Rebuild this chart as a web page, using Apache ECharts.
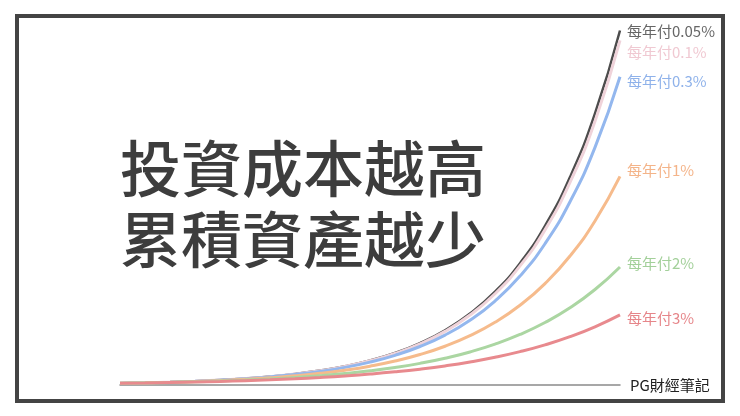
<!DOCTYPE html>
<html><head><meta charset="utf-8">
<script src="https://cdn.jsdelivr.net/npm/echarts@6/dist/echarts.min.js"></script>
<style>html,body{margin:0;padding:0;background:#fff}#c{width:740px;height:416px}</style>
</head><body><div id="c"></div>
<script>
const years = ['0','2','4','6','8','10','12','14','16','18','20','22','24','26','28','30','32','34','36','38','40'];
const fee005 = [10,13.1,17.1,22.3,29.1,38.0,49.6,64.8,84.7,110.6,144.4,188.6,246.3,321.7,420.2,548.8,716.7,936.0,1223,1597,2085];
const fee01  = [10,13.0,17.0,22.2,28.9,37.7,49.2,64.1,83.7,109.1,142.4,185.5,242.2,315.5,411.9,536.6,700.6,912.4,1192,1552,2027];
const fee03  = [10,13.0,16.8,21.8,28.3,36.7,47.6,61.7,80.0,103.8,134.6,174.6,226.5,293.7,380.9,494.0,640.7,831.0,1078,1398,1813];
const fee1   = [10,12.7,16.2,20.6,26.2,33.3,42.3,53.9,68.5,87.1,110.8,140.9,179.2,228.0,289.9,368.8,469.1,596.6,758.7,965.0,1227];
const fee2   = [10,12.4,15.3,18.9,23.4,28.9,35.7,44.1,54.5,67.4,83.3,103.0,127.3,157.4,194.5,240.5,297.3,367.5,454.2,561.6,694.1];
const fee3   = [10,12.0,14.5,17.5,21.0,25.3,30.5,36.8,44.3,53.3,64.2,77.4,93.2,112.2,135.2,162.8,196.1,236.2,284.4,342.6,412.6];
const seriesNames = ['每年付0.05%','每年付0.1%','每年付0.3%','每年付1%','每年付2%','每年付3%'];
const titleLines = ['投資成本越高','累積資產越少'];
const sourceLabel = 'PG財經筆記';

const data = [fee005, fee01, fee03, fee1, fee2, fee3];
const colors = ['#4d4d4d','#efd3da','#93b7ee','#f6bb8c','#abd6a2','#e88a8e'];
const labelColors = ['#666666','#f0c9d2','#8fb2ea','#f4b489','#a3d09a','#e6868a'];
const widths = [2.5,3,3,3,3,3];
const labelOffsets = [[0,1],[0,12],[0,5],[0,-6],[0,-4],[0,3]];
const FONT = '"Noto Sans CJK TC","Noto Sans CJK SC",sans-serif';

const chart = echarts.init(document.getElementById('c'));
chart.setOption({
  animation:false,
  backgroundColor:'#fff',
  grid:{left:120,right:120,top:28,bottom:31},
  xAxis:{type:'category',data:years,boundaryGap:false,
    axisLine:{lineStyle:{color:'#8a8a8a',width:1.5}},axisTick:{show:false},axisLabel:{show:false},
    name:sourceLabel,nameLocation:'end',nameGap:10,
    nameTextStyle:{color:'#222',fontSize:15,fontFamily:FONT,verticalAlign:'middle'}},
  yAxis:{type:'value',min:0,max:2100,show:false,splitLine:{show:false}},
  series:data.map((d,i)=>({
    type:'line',name:seriesNames[i],data:d,smooth:true,symbol:'none',
    lineStyle:{color:colors[i],width:widths[i]},
    endLabel:{show:true,formatter:seriesNames[i],color:labelColors[i],fontSize:15,fontFamily:FONT,offset:labelOffsets[i],distance:7}
  })),
  graphic:[
    {type:'rect',shape:{x:17,y:16,width:706,height:385},style:{fill:'none',stroke:'#444',lineWidth:4},z:100},
    {type:'text',left:120,top:138,style:{text:titleLines[0],fontSize:61,fontWeight:500,fill:'#3d3d3d',fontFamily:FONT}},
    {type:'text',left:120,top:209,style:{text:titleLines[1],fontSize:61,fontWeight:500,fill:'#3d3d3d',fontFamily:FONT}}
  ]
});
</script></body></html>
